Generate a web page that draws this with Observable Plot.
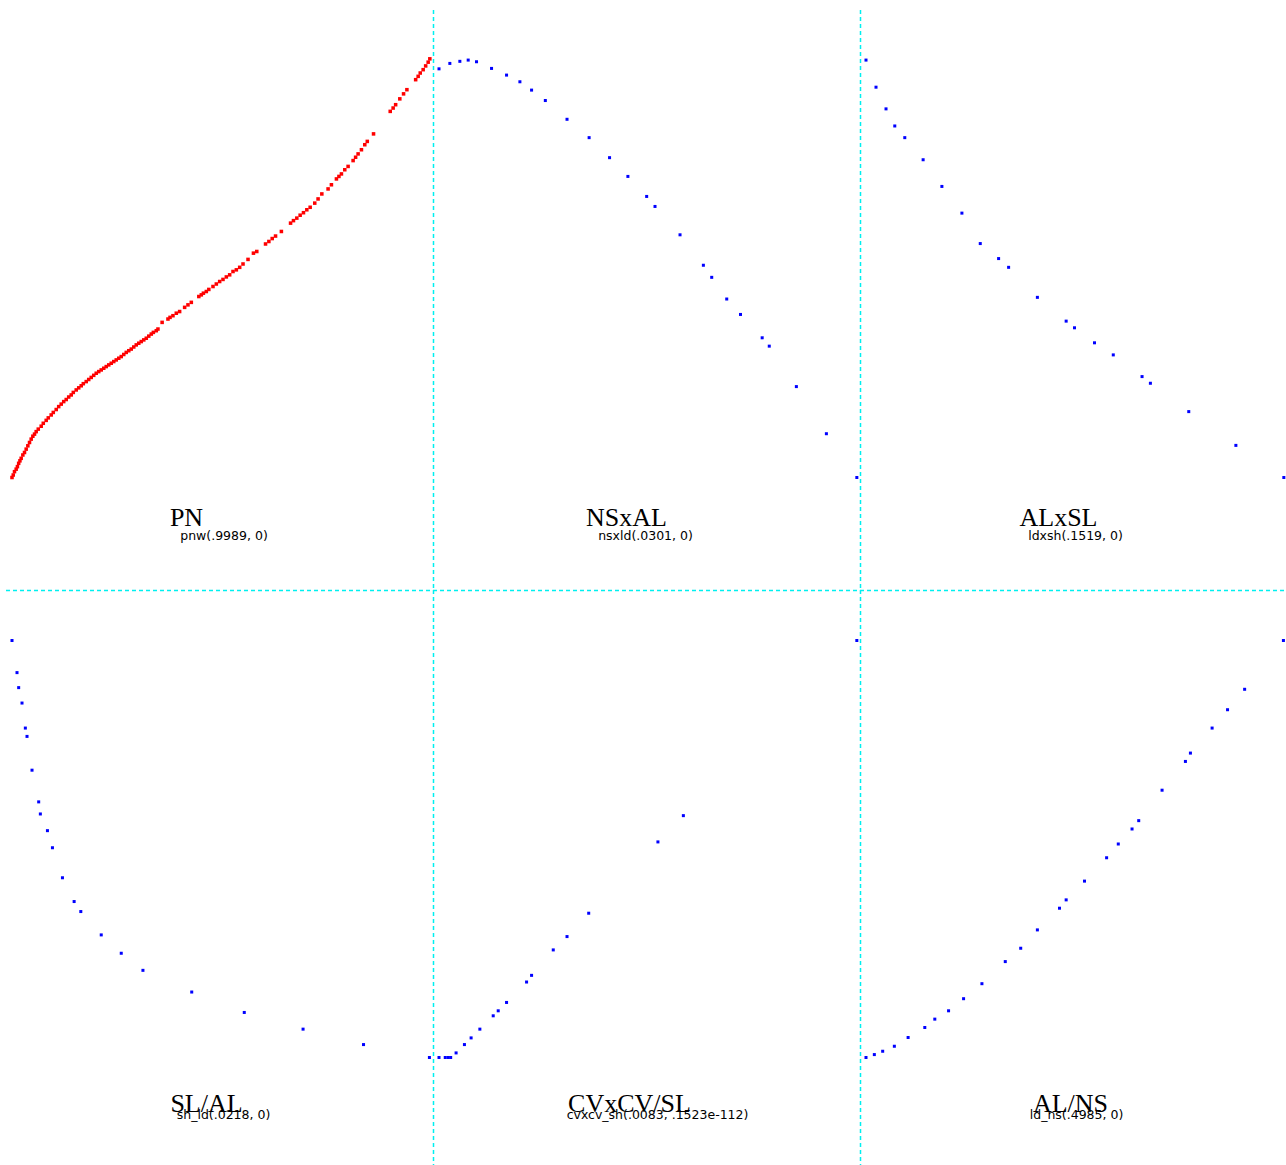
<!DOCTYPE html>
<html>
<head>
<meta charset="utf-8">
<script src="https://cdn.jsdelivr.net/npm/d3@7"></script>
<script src="https://cdn.jsdelivr.net/npm/@observablehq/plot@0.6"></script>
<style>
  html, body { margin: 0; padding: 0; background: #fff; overflow: hidden; }
</style>
</head>
<body>
<div id="chart"></div>
<script>
// Panel titles and their statistic captions (row-major, 3 columns x 2 rows)
const titles = ["PN", "NSxAL", "ALxSL", "SL/AL", "CVxCV/SL", "AL/NS"];
const subtitles = [
  "pnw(.9989, 0)",
  "nsxld(.0301, 0)",
  "ldxsh(.1519, 0)",
  "sh_ld(.0218, 0)",
  "cvxcv_sh(.0083, .1523e-112)",
  "ld_ns(.4985, 0)"
];

// Each panel's points as [x, y] on a unit square
const pnPoints = [
  [0,0],[.003,.006],[.006,.014],[.010,.020],[.013,.026],[.016,.034],[.019,.040],[.022,.046],
  [.026,.054],[.030,.060],[.034,.068],[.038,.076],[.042,.084],[.046,.092],[.050,.099],[.054,.104],
  [.058,.110],[.063,.116],[.070,.123],[.075,.130],[.082,.137],[.087,.143],[.094,.150],[.099,.156],
  [.106,.163],[.112,.170],[.118,.176],[.124,.182],[.130,.187],[.136,.193],[.142,.198],[.147,.204],
  [.154,.210],[.160,.215],[.166,.220],[.171,.225],[.178,.230],[.184,.235],[.190,.240],[.196,.245],
  [.202,.250],[.208,.254],[.214,.258],[.220,.262],[.226,.266],[.232,.270],[.238,.274],[.244,.278],
  [.250,.282],[.256,.286],[.262,.290],[.268,.295],[.274,.300],[.280,.304],[.286,.308],[.292,.313],
  [.298,.318],[.304,.322],[.310,.326],[.316,.330],[.322,.334],[.328,.339],[.334,.344],[.339,.348],
  [.346,.352],[.350,.356],[.360,.372],[.374,.380],[.379,.384],[.386,.388],[.394,.394],[.402,.398],
  [.414,.408],[.422,.414],[.430,.420],[.448,.434],[.454,.438],[.459,.442],[.466,.446],[.472,.451],
  [.482,.458],[.490,.464],[.498,.470],[.506,.475],[.514,.481],[.522,.486],[.530,.494],[.538,.498],
  [.546,.504],[.554,.512],[.566,.523],[.579,.538],[.587,.542],[.608,.560],[.616,.566],[.624,.573],
  [.632,.579],[.646,.590],[.668,.610],[.675,.616],[.683,.622],[.691,.629],[.699,.635],[.707,.642],
  [.715,.648],[.726,.658],[.734,.668],[.743,.680],[.758,.692],[.766,.702],[.778,.716],[.784,.722],
  [.790,.728],[.798,.738],[.806,.746],[.818,.760],[.824,.768],[.830,.776],[.838,.786],[.846,.798],
  [.852,.806],[.867,.824],[.907,.878],[.914,.886],[.920,.894],[.930,.908],[.939,.920],[.947,.930],
  [.968,.954],[.974,.962],[.979,.970],[.986,.978],[.992,.987],[.998,.996],[1.002,1.004]
];
const nsxalPoints = [
  [0,.980],[.026,.993],[.050,.998],[.070,1.001],[.090,.997],[.126,.981],[.162,.965],[.194,.949],
  [.222,.929],[.255,.904],[.307,.859],[.360,.815],[.409,.767],[.453,.722],[.498,.674],[.518,.650],
  [.578,.582],[.634,.509],[.654,.480],[.690,.428],[.723,.391],[.775,.335],[.792,.315],[.857,.218],
  [.929,.105],[1.002,0]
];
const alxslPoints = [
  [0,1.001],[.024,.936],[.048,.884],[.069,.843],[.093,.815],[.137,.762],[.182,.698],[.230,.634],
  [.274,.561],[.318,.525],[.342,.504],[.411,.432],[.480,.375],[.500,.359],[.548,.323],[.593,.294],
  [.662,.242],[.682,.226],[.774,.158],[.887,.077],[1.002,0]
];
const slalPoints = [
  [0,1.000],[.012,.923],[.016,.887],[.024,.850],[.032,.790],[.036,.770],[.048,.689],[.064,.613],
  [.068,.584],[.085,.544],[.097,.503],[.121,.431],[.149,.374],[.165,.350],[.214,.294],[.262,.250],
  [.314,.209],[.431,.157],[.557,.108],[.698,.068],[.843,.031],[1.001,0]
];
const cvPoints = [
  [0,0],[.015,0],[.022,0],[.028,0],[.041,.011],[.061,.031],[.077,.047],[.098,.068],
  [.130,.100],[.142,.112],[.162,.132],[.210,.181],[.222,.197],[.274,.258],[.307,.290],[.359,.346],
  [.525,.517],[.586,.580],[1.002,1.000]
];
const alnsPoints = [
  [0,0],[.020,.007],[.040,.015],[.068,.027],[.101,.048],[.141,.072],[.165,.092],[.198,.112],
  [.234,.141],[.278,.177],[.334,.230],[.371,.262],[.411,.306],[.464,.358],[.480,.378],[.524,.423],
  [.577,.479],[.605,.512],[.638,.548],[.654,.568],[.710,.641],[.766,.710],[.778,.730],[.830,.790],
  [.867,.834],[.908,.883],[1.001,1.000]
];

const panelPoints = [pnPoints, nsxalPoints, alxslPoints, slalPoints, cvPoints, alnsPoints];

// Grid placement of the six panels
const panels = titles.map((title, i) => ({
  title,
  subtitle: subtitles[i],
  col: (i % 3) + 1,
  row: Math.floor(i / 3) + 1
}));

const points = panels.flatMap((p, i) =>
  panelPoints[i].map(([x, y]) => ({x, y, col: p.col, row: p.row, series: i === 0 ? "pn" : "pair"}))
);

// Panel insets inside each facet cell (px)
const inset = {left: 5.5, right: 4.5, top: 50, bottom: 113};

// Dashed separators: right edge of columns 1-2, bottom edge of row 1
const colSeparators = panels.filter(p => p.col < 3);
const rowSeparators = panels.filter(p => p.row === 1);

// Horizontal nudges (px) of each panel's title and caption from the panel centre, and baselines
const titleDx = [-34, -21, -16, -14, -18, -4];
const captionDx = [3.5, -2, 1, 3, 10, 2];
const titleDy = [48, 48, 48, 54, 54, 54];
const captionDy = [62, 62, 62, 61.5, 61.5, 61.5];

const sep = {stroke: "#00f0f0", strokeWidth: 1.5, strokeDasharray: "4,3"};

const labelMarks = panels.flatMap((p, i) => [
  Plot.text([p], {
    x: () => 0.5, y: () => 0, fx: "col", fy: "row", text: "title",
    dx: titleDx[i], dy: titleDy[i], lineAnchor: "bottom", textAnchor: "middle",
    fontFamily: "Liberation Serif, Times New Roman, serif", fontSize: 26, fill: "#000"
  }),
  Plot.text([p], {
    x: () => 0.5, y: () => 0, fx: "col", fy: "row", text: "subtitle",
    dx: captionDx[i], dy: captionDy[i], lineAnchor: "bottom", textAnchor: "middle",
    fontFamily: "DejaVu Sans, sans-serif", fontSize: 12.5, fill: "#000"
  })
]);

const chart = Plot.plot({
  width: 1286,
  height: 1165,
  marginLeft: 6,
  marginRight: -1,
  marginTop: 9.5,
  marginBottom: -5.5,
  style: {background: "#fff"},
  x: {domain: [0, 1], axis: null, insetLeft: inset.left, insetRight: inset.right},
  y: {domain: [0, 1], axis: null, insetTop: inset.top, insetBottom: inset.bottom},
  fx: {axis: null, padding: 0},
  fy: {axis: null, padding: 0},
  marks: [
    Plot.ruleX(colSeparators, {x: () => 1, fx: "col", fy: "row", dx: inset.right, ...sep}),
    Plot.ruleY(rowSeparators, {y: () => 0, fx: "col", fy: "row", dy: inset.bottom, ...sep}),
    Plot.dot(points.filter(d => d.series === "pn"), {
      x: "x", y: "y", fx: "col", fy: "row", symbol: "square", r: 2, fill: "#ff0000", stroke: "none"
    }),
    Plot.dot(points.filter(d => d.series === "pair"), {
      x: "x", y: "y", fx: "col", fy: "row", symbol: "square", r: 1.7, fill: "#0000ff", stroke: "none"
    }),
    ...labelMarks
  ]
});

document.getElementById("chart").appendChild(chart);
</script>
</body>
</html>
